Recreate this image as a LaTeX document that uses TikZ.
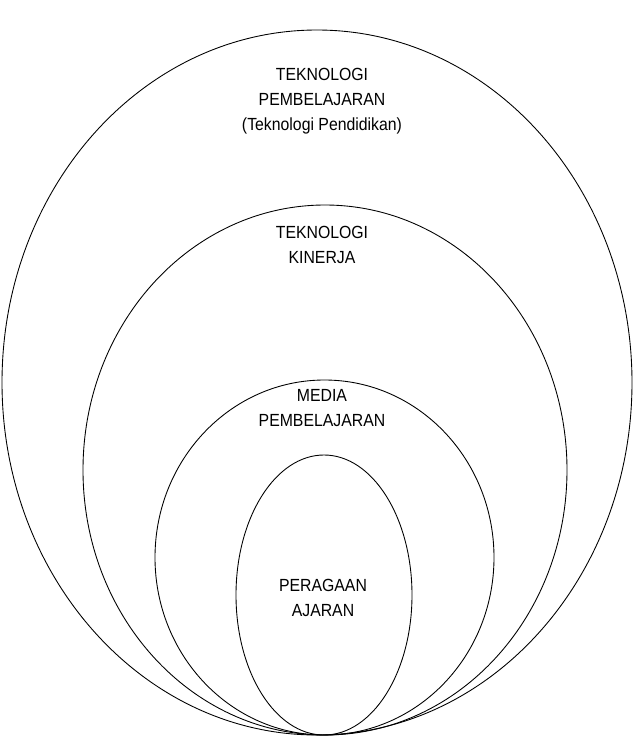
\documentclass[tikz,border=0pt]{standalone}
\usepackage{fontspec}
\setmainfont{Liberation Sans}[FakeStretch=0.9]
\usetikzlibrary{positioning}
\tikzset{
  ring/.style={draw=black,line width=.5pt},
  label/.style={align=center,font=\fontsize{10}{14.2}\selectfont,inner sep=0pt}
}

\begin{document}
\begin{tikzpicture}[x=.2mm,y=-.2mm]
  \useasboundingbox (0,0) rectangle (636,738);

  % Nested ovals, all touching at the bottom.
  \draw[ring] (317,382.5) ellipse [x radius=315,y radius=352.5];
  \draw[ring] (325,470) ellipse [x radius=242,y radius=265];
  \draw[ring] (324.5,557.5) ellipse [x radius=169.5,y radius=177.5];
  \draw[ring] (324,595) ellipse [x radius=88,y radius=140];

  % Labels, one per oval.
  \node[label] (tp) at (322,101) {TEKNOLOGI\\PEMBELAJARAN\\(Teknologi Pendidikan)};
  \node[label] (tk) at (322,245) {TEKNOLOGI\\KINERJA};
  \node[label] (mp) at (322,408) {MEDIA\\PEMBELAJARAN};
  \node[label] (pa) at (323,598) {PERAGAAN\\AJARAN};
\end{tikzpicture}
\end{document}
